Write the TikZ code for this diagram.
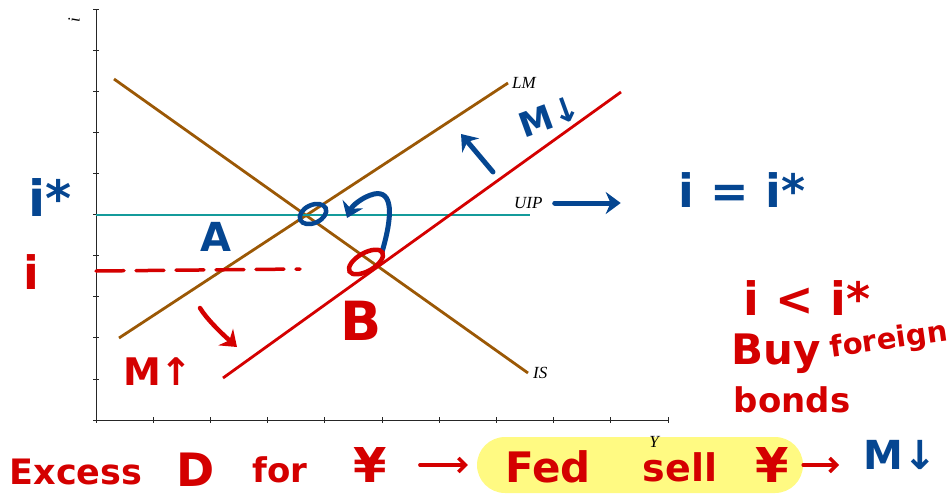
\documentclass[tikz,border=0pt]{standalone}
\usepackage{fontspec}
\setmainfont{Liberation Serif}
\newfontfamily\manuscrita{DejaVu Sans}
\usepackage{xcolor}
\usepackage{tikz}
\usetikzlibrary{arrows.meta,positioning,calc}
\definecolor{marrom}{RGB}{155,88,5}
\definecolor{ciano}{RGB}{20,155,155}
\definecolor{vermelho}{RGB}{212,0,0}
\definecolor{azul}{RGB}{5,70,145}
\definecolor{amarelo}{RGB}{255,250,130}
\newcommand{\tam}[1]{\fontsize{#1}{#1}\selectfont}
\tikzset{
    eixo/.style={line width=0.8pt, black!85},
    curva/.style={line width=2.8pt},
    rotulo/.style={font=\itshape\tam{17}, inner sep=0pt},
    escrita/.style={font=\manuscrita\bfseries\tam{#1}, inner sep=0pt},
    escritaAzul/.style={escrita=#1, text=azul},
    escritaVermelha/.style={escrita=#1, text=vermelho},
    contorno/.style={line width=4.5pt},
    setaMao/.style={line width=5pt, line cap=round, -{Stealth[length=15pt,width=22pt]}},
    setaTexto/.style={line width=3.5pt, line cap=round, -{Straight Barb[length=7pt,width=14pt]}},
    caixaDestaque/.style={fill=amarelo, rounded corners=28pt, minimum width=326pt, minimum height=56pt, inner sep=0pt}
}

\begin{document}
\begin{tikzpicture}[x=1pt, y=-1pt]
    \useasboundingbox (0,0) rectangle (949,499);

    \coordinate (origem) at (96,420);
    \coordinate (topoY) at (96,9);
    \coordinate (fimX) at (668,420);
    \draw[eixo] (topoY) -- (origem) -- (fimX);
    \foreach \k in {0,...,10} {
        \draw[eixo] ($(origem)+(-3,-41.1*\k)$) -- ++(6,0);
        \draw[eixo] ($(origem)+(57.2*\k,-3)$) -- ++(0,6);
    }
    \node[rotulo, rotate=90] (eixoI) at (74,20) {i};

    \coordinate (is1) at (114,79);
    \coordinate (is2) at (528,373);
    \coordinate (lm1) at (119,338);
    \coordinate (lm2) at (508,83);
    \coordinate (uip1) at (96,215);
    \coordinate (uip2) at (530,215);
    \coordinate (lmNovo1) at (223,378);
    \coordinate (lmNovo2) at (621,92);

    \draw[curva, marrom] (is1) -- (is2);
    \draw[curva, marrom] (lm1) -- (lm2);
    \draw[curva, ciano] (uip1) -- (uip2);
    \draw[curva, vermelho] (lmNovo1) -- (lmNovo2);

    \node[rotulo, right=5pt of is2] (rotIS) {IS};
    \node[rotulo, anchor=west] (rotLM) at (512,83) {LM};
    \node[rotulo, anchor=west] (rotUIP) at (514,203) {UIP};

    \node[escritaAzul=50] (iEstrela) at (50,197) {i*};
    \node[escritaAzul=40] (pontoA) at (216,237) {A};
    \draw[contorno, azul, rotate around={25:(313,214)}] (313,214) ellipse [x radius=14pt, y radius=9pt];
    \coordinate (ganchoIni) at (382,252);
    \coordinate (ganchoFim) at (347,218);
    \draw[setaMao, azul] (ganchoIni) .. controls (393,215) and (393,190) .. (374,194) .. controls (362,197) and (352,206) .. (ganchoFim);
    \coordinate (mIni) at (493,172);
    \coordinate (mFim) at (461,134);
    \draw[setaMao, azul] (mIni) -- (mFim);
    \node[escritaAzul=34, rotate=20] (mBaixo) at (550,116) {M↓};
    \node[escritaAzul=46] (iIgual) at (742,190) {i = i*};
    \draw[setaMao, azul, shorten <=12pt, shorten >=58pt] (rotUIP.east) -- (rotUIP.east -| iIgual.west);

    \node[escritaVermelha=46] (iVermelho) at (31,272) {i};
    \coordinate (tracoIni) at (96,271);
    \coordinate (tracoFim) at (300,269);
    \draw[vermelho, line width=3.5pt, line cap=round, dash pattern=on 28pt off 12pt] (tracoIni) -- (tracoFim);
    \draw[contorno, vermelho, rotate around={30:(366,262)}] (366,262) ellipse [x radius=19pt, y radius=9pt];
    \node[escritaVermelha=54] (pontoB) at (361,321) {B};
    \node[escritaVermelha=38] (mCima) at (158,372) {M↑};
    \coordinate (desceIni) at (200,308);
    \coordinate (desceFim) at (237,347);
    \draw[setaMao, vermelho, line width=4.5pt] (desceIni) .. controls (206,318) and (220,332) .. (desceFim);

    \node[escritaVermelha=46] (iMenor) at (807,298) {i < i*};
    \node[escritaVermelha=42] (compre) at (776,354) {Buy};
    \node[escritaVermelha=29, rotate=8] (estrangeiro) at (889,341) {foreign};
    \node[escritaVermelha=34] (titulos) at (792,400) {bonds};

    \node[caixaDestaque] (caixaFed) at (640,465) {};
    \node[rotulo] (eixoY) at (654,442) {Y};
    \node[escritaVermelha=35] (excesso) at (76,472) {Excess};
    \node[escritaVermelha=46] (demanda) at (196,470) {D};
    \node[escritaVermelha=34] (para) at (280,470) {for};
    \node[escritaVermelha=48] (iene) at (370,465) {¥};
    \node[escritaVermelha=42] (fed) at (548,467) {Fed};
    \node[escritaVermelha=38] (vende) at (680,467) {sell};
    \node[escritaVermelha=48] (ieneFed) at (772,465) {¥};
    \node[escritaAzul=40] (mFinal) at (900,455) {M↓};

    \draw[setaTexto, vermelho, shorten <=33pt, shorten >=9pt] (iene) -- (caixaFed);
    \draw[setaTexto, vermelho, shorten >=24pt] (caixaFed.east) -- (caixaFed.east -| mFinal.west);
\end{tikzpicture}
\end{document}
